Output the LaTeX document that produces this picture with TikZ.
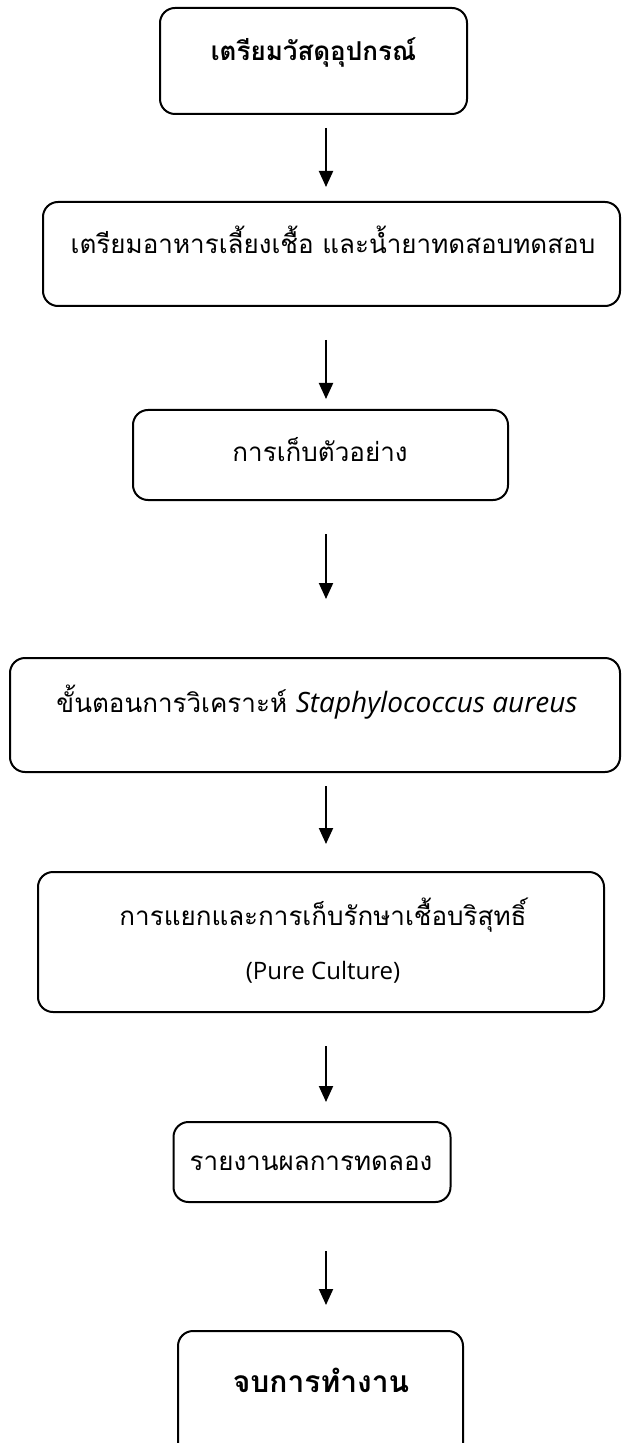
\documentclass[tikz,border=0pt]{standalone}
\usepackage{fontspec}
\setmainfont{Open Sans}
\newfontfamily\thai[Script=Thai]{Loma}
\usetikzlibrary{arrows.meta}
\begin{document}
\begin{tikzpicture}[x=0.5pt,y=-0.5pt,
  box/.style={draw, line width=1pt, rounded corners=7.5pt, inner sep=0pt},
  lbl/.style={font=\thai\fontsize{13}{27}\selectfont, inner sep=0pt, align=center},
  boldlbl/.style={lbl, font=\thai\bfseries\fontsize{13}{15}\selectfont},
  arr/.style={line width=1pt, -{Triangle[width=7pt,length=8pt]}}]
\useasboundingbox (0,0) rectangle (622,1443);
\clip (0,0) rectangle (622,1443);
\coordinate (ax) at (326,0);
% boxes
\node[box, minimum width=153.5pt, minimum height=53pt] (b1) at (313.5,61) {};
\node[box, minimum width=288.5pt, minimum height=52pt] (b2) at (331.5,254) {};
\node[box, minimum width=187.5pt, minimum height=45pt] (b3) at (320.5,455) {};
\node[box, minimum width=305pt, minimum height=57pt] (b4) at (315,715) {};
\node[box, minimum width=283pt, minimum height=70pt] (b5) at (321,942) {};
\node[box, minimum width=138.5pt, minimum height=40pt] (b6) at (312,1162) {};
\node[box, minimum width=142.5pt, minimum height=69pt] (b7) at (320.5,1400) {};
% labels
\node[boldlbl] (t1) at (313.5,52) {เตรียมวัสดุอุปกรณ์};
\node[lbl] (t2) at (333,240) {เตรียมอาหารเลี้ยงเชื้อ และน้ำยาทดสอบทดสอบ};
\node[lbl] (t3) at (320,450) {การเก็บตัวอย่าง};
\node[lbl] (t4) at (317,702) {ขั้นตอนการวิเคราะห์ {\normalfont\itshape\fontsize{14}{16}\selectfont Staphylococcus aureus}};
\node[lbl] (t5) at (323,941) {การแยกและการเก็บรักษาเชื้อบริสุทธิ์\\{\normalfont\fontsize{12}{15}\selectfont (Pure Culture)}};
\node[lbl] (t6) at (311,1163) {รายงานผลการทดลอง};
\node[boldlbl, font=\thai\bfseries\fontsize{15}{17}\selectfont] (t7) at (321,1380) {จบการทำงาน};
% arrows
\draw[arr, shorten <=6.5pt, shorten >=7pt] (b1.south -| ax) -- (b2.north -| ax);
\draw[arr, shorten <=16.5pt, shorten >=5pt] (b2.south -| ax) -- (b3.north -| ax);
\draw[arr, shorten <=16.5pt, shorten >=29pt] (b3.south -| ax) -- (b4.north -| ax);
\draw[arr, shorten <=6.5pt, shorten >=13.5pt] (b4.south -| ax) -- (b5.north -| ax);
\draw[arr, shorten <=16.5pt, shorten >=9.5pt] (b5.south -| ax) -- (b6.north -| ax);
\draw[arr, shorten <=24pt, shorten >=12.5pt] (b6.south -| ax) -- (b7.north -| ax);
\end{tikzpicture}
\end{document}
